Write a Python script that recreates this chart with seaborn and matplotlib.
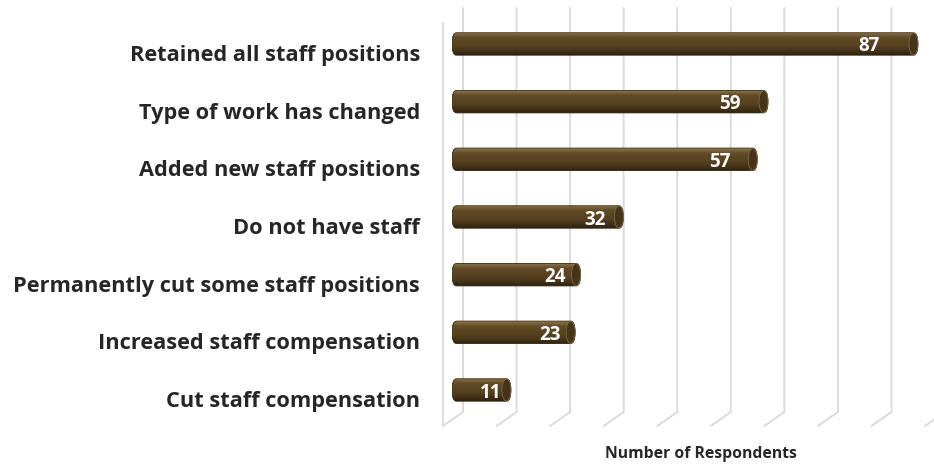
import numpy as np
import matplotlib
matplotlib.use("Agg")
import matplotlib.pyplot as plt
import matplotlib.transforms as mtransforms
from matplotlib.patches import FancyBboxPatch, Ellipse
from matplotlib.colors import LinearSegmentedColormap
import seaborn as sns

# Survey responses
categories = [
    "Retained all staff positions",
    "Type of work has changed",
    "Added new staff positions",
    "Do not have staff",
    "Permanently cut some staff positions",
    "Increased staff compensation",
    "Cut staff compensation",
]
respondents = [87, 59, 57, 32, 24, 23, 11]
grid_ticks = list(range(0, 100, 10))

BAR_COLOR = "#5a4421"
TEXT_COLOR = "#262626"
GRID_COLOR = "#d9d9d9"

sns.set_theme(style="white")
plt.rcParams["font.family"] = ["Open Sans", "DejaVu Sans"]

W, H, DPI = 934, 465, 100
fig = plt.figure(figsize=(W / DPI, H / DPI), dpi=DPI)
ax = fig.add_axes([452 / W, (H - 426) / H, 482 / W, 418 / H])

sns.barplot(x=respondents, y=categories, orient="h", color=BAR_COLOR,
            width=0.39, saturation=1, ax=ax, zorder=3)

ax.set_xlim(0, 90)
ax.set_ylim(6.624, -0.624)
for s in ax.spines.values():
    s.set_visible(False)
ax.set_xticks([])
ax.tick_params(axis="y", length=0, pad=23)
for lab in ax.get_yticklabels():
    lab.set_fontsize(15.7)
    lab.set_fontweight("bold")
    lab.set_color(TEXT_COLOR)
    lab.set_transform(lab.get_transform() +
                      mtransforms.ScaledTranslation(0, -9 / DPI, fig.dpi_scale_trans))

ax.set_xlabel("Number of Respondents", fontsize=11.3, fontweight="bold",
              color=TEXT_COLOR)
ax.xaxis.set_label_coords(0.517, -0.047)

# pixel -> data scale factors
x_per_px = 90 / 482
y_per_px = (6.624 + 0.624) / 418

# perspective grid: back wall verticals plus floor diagonals
back_dx = 11 * x_per_px
front_dx = 9 * x_per_px
y_top = -0.624
y_back = 6.624 - 14 * y_per_px
y_front = 6.624
for t in grid_ticks:
    ax.plot([t + back_dx, t + back_dx, t - front_dx], [y_top, y_back, y_front],
            color=GRID_COLOR, lw=1.3, zorder=1, clip_on=False,
            solid_joinstyle="miter")
# front edge of the side wall
ax.plot([-front_dx, -front_dx], [y_top + 15 * y_per_px, y_front],
        color=GRID_COLOR, lw=1.3, zorder=1, clip_on=False)

# cylinder shading
shade = LinearSegmentedColormap.from_list(
    "cyl", ["#8d7a52", "#654d28", "#5b4522", "#574120", "#46351a", "#2f230f"])
grad = np.linspace(0, 1, 64).reshape(-1, 1)

cap_rx = 4.5 * x_per_px
for bar, val in zip(ax.patches, respondents):
    x0, y0 = bar.get_x(), bar.get_y()
    w, h = bar.get_width(), bar.get_height()
    aspect = (h / 2) / cap_rx
    shape = FancyBboxPatch((x0, y0), w, h,
                           boxstyle=f"round,pad=0,rounding_size={cap_rx}",
                           mutation_aspect=aspect, transform=ax.transData,
                           facecolor="none", edgecolor="none")
    ax.add_patch(shape)
    bar.set_clip_path(shape)
    img = ax.imshow(grad, cmap=shade, aspect="auto", interpolation="bilinear",
                    extent=(x0, x0 + w, y0 + h, y0), zorder=4)
    img.set_clip_path(shape)
    # outline
    ax.add_patch(FancyBboxPatch((x0, y0), w, h,
                                boxstyle=f"round,pad=0,rounding_size={cap_rx}",
                                mutation_aspect=aspect, facecolor="none",
                                edgecolor="#3a2c12", lw=0.6, zorder=5))
    # end face of the cylinder
    ax.add_patch(Ellipse((x0 + w - cap_rx, y0 + h / 2), 2 * cap_rx, h * 0.98,
                         facecolor="#45341a", edgecolor="#7d6a45", lw=0.6,
                         zorder=6))
    ax.text(val * 0.93 - 3, y0 + h / 2, f"{val}", color="white",
            fontsize=13.5, fontweight="bold", ha="center", va="center_baseline",
            zorder=7)

ax.set_ylim(6.624, -0.624)
ax.set_xlim(0, 90)
fig.savefig("out.png", dpi=DPI, facecolor="white")
